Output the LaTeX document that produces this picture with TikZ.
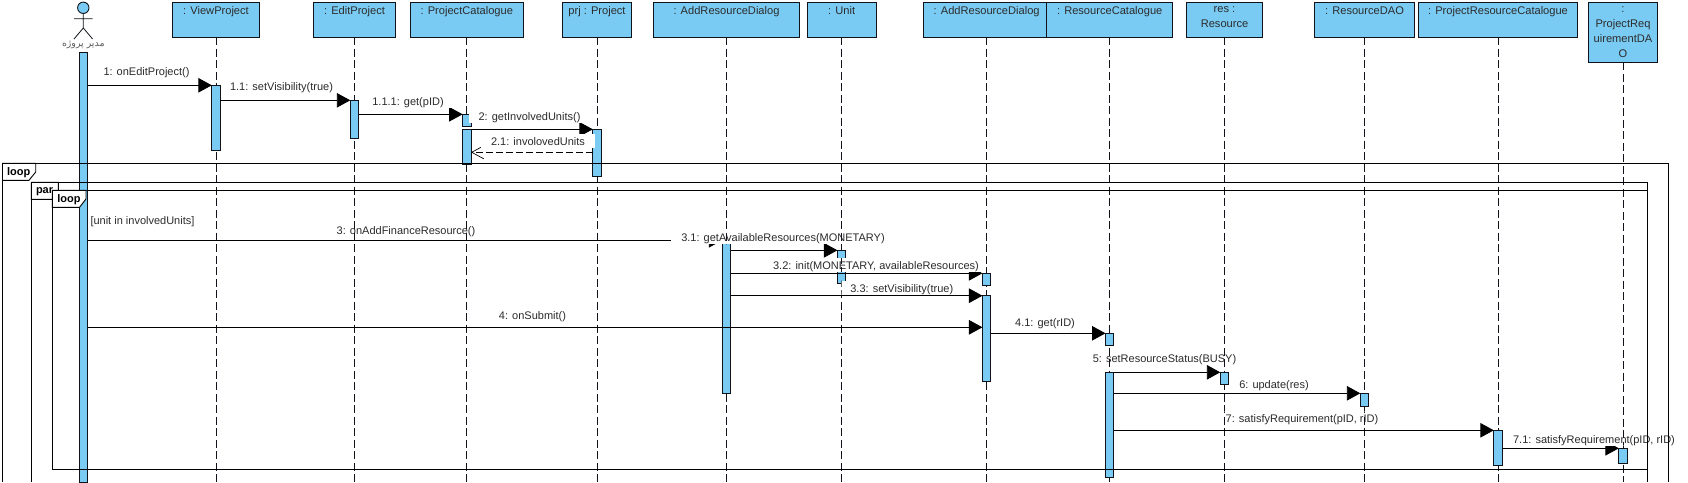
\documentclass[tikz,border=0pt]{standalone}
\usepackage{fontspec}
\setmainfont{Liberation Sans}
\newfontfamily\arabicfont[Script=Arabic]{DejaVu Sans}
\TeXXeTstate=1
\usetikzlibrary{arrows.meta}
\definecolor{fillblue}{HTML}{7ACBF3}
\definecolor{inkline}{HTML}{10141A}
\definecolor{inktext}{HTML}{2B2B2B}
\tikzset{
  objshape/.style={draw=inkline,fill=fillblue,line width=.9pt,inner sep=0pt,outer sep=0pt},
  objtext/.style={text=inktext,font=\fontsize{11.1}{15}\selectfont,align=center,inner sep=0pt,outer sep=0pt,yshift=-4.4pt},
  lifeline/.style={draw=inkline,line width=.8pt,dash pattern=on 8pt off 3.5pt},
  barstyle/.style={draw=inkline,fill=fillblue,line width=.9pt,minimum width=8.4pt,inner sep=0pt,outer sep=0pt},
  syncmsg/.style={draw=black,line width=.9pt,-{Triangle[length=13.5pt,width=14.5pt]}},
  replymsg/.style={draw=black,line width=.7pt,dash pattern=on 7pt off 3pt,-{Straight Barb[length=12pt,width=13pt,line width=.7pt]}},
  msglabel/.style={fill=white,text=inktext,font=\fontsize{11}{14}\selectfont,inner xsep=8pt,inner ysep=0pt,outer sep=0pt,minimum height=14pt,text height=9.8pt,text depth=1.2pt},
  framepath/.style={draw=black,line width=.9pt},
  tabshape/.style={draw=black,fill=white,line width=.9pt},
  tabtext/.style={text=black,font=\fontsize{11}{13}\selectfont\bfseries,inner sep=0pt,outer sep=0pt,anchor=west},
}
\newcommand\objbox[5]{%
  \pgfmathsetmacro\bw{#3-#2}\pgfmathsetmacro\bh{#4-2.5}%
  \pgfmathsetmacro\bx{(#2+#3)/2}\pgfmathsetmacro\by{(#4+2.5)/2}%
  \node[objshape,minimum width=\bw pt,minimum height=\bh pt] (#1) at (\bx,\by) {};
  \node[objtext,anchor=north] (#1text) at (#1.north) {#5};
}
\newcommand\actbar[4]{%
  \pgfmathsetmacro\ym{(#3+#4)/2}\pgfmathsetmacro\bh{#4-#3}%
  \node[barstyle,minimum height=\bh pt] (#1) at (#2.south |- 0,\ym) {};
}
\newcommand\alllifelines{%
  \foreach \n in {VP,EP,PC,PR,ARA,UN,ARB,RC,RS,RD,PRC,PRD}{
    \draw[lifeline] (\n.south) -- (\n.south |- pagebot);
  }%
}
\begin{document}
\begin{tikzpicture}[x=1pt,y=-1pt]
\useasboundingbox (0,0) rectangle (1688,482);
\coordinate (pagebot) at (0,482);

% actor
\node[draw=inkline,fill=fillblue,line width=.9pt,circle,minimum size=11.4pt,inner sep=0pt,outer sep=0pt] (head) at (83.3,7.8) {};
\coordinate (hip) at (83.3,28);
\coordinate (armL) at (74,18.7);
\coordinate (armR) at (92.6,18.7);
\coordinate (legL) at (74,39);
\coordinate (legR) at (92.6,39);
\draw[draw=inkline,line width=.8pt] (head.south) -- (hip) -- (legL) (hip) -- (legR) (armL) -- (armR);
\node[text=black!65,font=\fontsize{9.4}{10}\arabicfont,inner sep=0pt] (actorname) at (83.3,45) {\beginR مدیر پروژه\endR};

% lifeline heads
\objbox{VP}{172.3}{259.7}{37}{: ViewProject}
\objbox{EP}{313.3}{395.7}{37}{: EditProject}
\objbox{PC}{410.3}{523.3}{37}{: ProjectCatalogue}
\objbox{PR}{562.3}{631.7}{37}{prj : Project}
\objbox{ARA}{653.3}{799.7}{37}{: AddResourceDialog}
\objbox{UN}{807}{876.3}{37}{: Unit}
\objbox{ARB}{923.3}{1050}{37}{: AddResourceDialog}
\objbox{RC}{1046.7}{1172.7}{37}{: ResourceCatalogue}
\objbox{RS}{1186.3}{1262.7}{37}{res :\\Resource}
\objbox{RD}{1314.3}{1414.7}{37}{: ResourceDAO}
\objbox{PRC}{1418.3}{1577.7}{37}{: ProjectResourceCatalogue}
\objbox{PRD}{1588.3}{1657.7}{62}{:\\ProjectReq\\uirementDA\\O}

\alllifelines

% activation bars
\actbar{aA}{head}{52}{482.5}
\actbar{aVP}{VP}{85.3}{150.3}
\actbar{aEP}{EP}{100.3}{138.3}
\actbar{aPCa}{PC}{114.3}{126.3}
\actbar{aPCb}{PC}{129.3}{164.3}
\actbar{aPR}{PR}{129.3}{176.3}
\actbar{aARA}{ARA}{240.3}{393.3}
\actbar{aUN}{UN}{250.3}{283.3}
\actbar{aARBa}{ARB}{273.3}{285.3}
\actbar{aARBb}{ARB}{295.7}{381.5}
\actbar{aRCa}{RC}{333.3}{345.3}
\actbar{aRCb}{RC}{372.3}{477.3}
\actbar{aRS}{RS}{372.3}{384.3}
\actbar{aRD}{RD}{393.3}{406.3}
\actbar{aPRC}{PRC}{430.3}{465.7}
\actbar{aPRD}{PRD}{448.3}{463.7}

% messages
\coordinate (y21) at (0,152.3);
\coordinate (y4) at (0,327.3);
\draw[syncmsg] (aA.east |- aVP.north) -- (aVP.north west);
\draw[syncmsg] (aVP.east |- aEP.north) -- (aEP.north west);
\draw[syncmsg] (aEP.east |- aPCa.north) -- (aPCa.north west);
\draw[syncmsg] (aPCb.north east) -- (aPR.north west);
\draw[replymsg] (aPR.west |- y21) -- (aPCb.east |- y21);
\draw[syncmsg] (aA.east |- aARA.north) -- (aARA.north west);
\draw[syncmsg] (aARA.east |- aUN.north) -- (aUN.north west);
\draw[syncmsg] (aARA.east |- aARBa.north) -- (aARBa.north west);
\draw[syncmsg] (aARA.east |- aARBb.north) -- (aARBb.north west);
\draw[syncmsg] (aA.east |- y4) -- (aARBb.west |- y4);
\draw[syncmsg] (aARBb.east |- aRCa.north) -- (aRCa.north west);
\draw[syncmsg] (aRCb.north east) -- (aRS.north west);
\draw[syncmsg] (aRCb.east |- aRD.north) -- (aRD.north west);
\draw[syncmsg] (aRCb.east |- aPRC.north) -- (aPRC.north west);
\draw[syncmsg] (aPRC.east |- aPRD.north) -- (aPRD.north west);

% message labels
\node[msglabel] (l1) at (146.5,71) {1: onEditProject()};
\node[msglabel] (l11) at (281.5,86) {1.1: setVisibility(true)};
\node[msglabel] (l111) at (408,101) {1.1.1: get(pID)};
\node[msglabel,inner xsep=10pt] (l2) at (529.5,116) {2: getInvolvedUnits()};
\node[msglabel,inner xsep=10pt] (l21) at (538,141) {2.1: involovedUnits};
\node[msglabel] (l3) at (406,230) {3: onAddFinanceResource()};
\node[msglabel,inner xsep=10pt] (l31) at (783,237.3) {3.1: getAvailableResources(MONETARY)};
\node[msglabel,inner xsep=10pt] (l32) at (876,265) {3.2: init(MONETARY, availableResources)};
\node[msglabel,inner xsep=9pt] (l33) at (901.8,287.7) {3.3: setVisibility(true)};
\node[msglabel] (l4) at (532.5,315) {4: onSubmit()};
\node[msglabel] (l41) at (1045,321.7) {4.1: get(rID)};
\node[msglabel] (l5) at (1164.5,358) {5: setResourceStatus(BUSY)};
\node[msglabel] (l6) at (1274,384) {6: update(res)};
\node[msglabel] (l7) at (1302,418.3) {7: satisfyRequirement(pID, rID)};
\node[msglabel,inner xsep=8pt] (l71) at (1594,438.7) {7.1: satisfyRequirement(pID, rID)};

% lifelines stay visible across the label backgrounds
\begin{scope}
  \clip (l3.south west) rectangle (l3.north east)
        (l31.south west) rectangle (l31.north east)
        (l32.south west) rectangle (l32.north east)
        (l33.south west) rectangle (l33.north east)
        (l5.south west) rectangle (l5.north east)
        (l7.south west) rectangle (l7.north east)
        (l71.south west) rectangle (l71.north east);
  \alllifelines
\end{scope}

% combined fragments
\draw[framepath] (2.5,482) -- (2.5,163.3) -- (1668.7,163.3) -- (1668.7,482);
\draw[framepath] (31.3,482) -- (31.3,182.3) -- (1647.3,182.3) -- (1647.3,482);
\draw[framepath] (52.3,207.3) -- (52.3,469.3) -- (1647.3,469.3);
\draw[framepath] (52.3,190.3) -- (1647.3,190.3);

\draw[tabshape] (2.5,163.3) -- (35.7,163.3) -- (35.7,172) -- (29,180.3) -- (2.5,180.3) -- cycle;
\node[tabtext] (tabouter) at (7,172.3) {loop};
\draw[tabshape] (31.3,182.3) -- (58.3,182.3) -- (58.3,191) -- (52,199.3) -- (31.3,199.3) -- cycle;
\node[tabtext] (tabpar) at (36,191.8) {par};
\draw[tabshape] (52.3,190.3) -- (86,190.3) -- (86,199) -- (79.5,207.3) -- (52.3,207.3) -- cycle;
\node[tabtext] (tabinner) at (57.3,199.5) {loop};
\node[text=inktext,font=\fontsize{11}{14}\selectfont,inner sep=0pt,anchor=west,text height=9pt,text depth=1.5pt] (guard) at (90.3,220.3) {[unit in involvedUnits]};
\end{tikzpicture}
\end{document}
